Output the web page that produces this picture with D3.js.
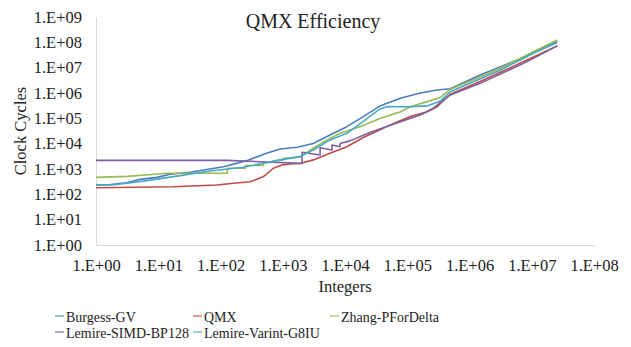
<!DOCTYPE html>
<html>
<head>
<meta charset="utf-8">
<script src="https://cdn.jsdelivr.net/npm/d3@7"></script>
<style>
  body { margin: 0; background: #fff; }
  text { font-family: "Liberation Serif", "Times New Roman", serif; fill: #222; }
</style>
</head>
<body>
<div id="chart"></div>
<script>
// Data (Integers vs Clock Cycles, log-log)
const seriesNames = ["Burgess-GV", "QMX", "Zhang-PForDelta", "Lemire-SIMD-BP128", "Lemire-Varint-G8IU"];
const seriesColors = ["#4a7ebb", "#be4b48", "#98b954", "#7d60a0", "#46aac5"];

const burgessN = [1, 1.7, 3.1, 5.1, 9.5, 15.5, 32, 112, 263, 550, 912, 1700, 3090, 5750, 10700, 20000, 37200, 77600, 162000, 302000, 490000, 1.48e6, 3.16e6, 7.41e6, 1.07e7, 2.57e7];
const burgessCycles = [234, 245, 288, 389, 468, 617, 741, 1230, 2140, 4170, 6170, 7240, 10200, 21900, 46800, 120000, 316000, 617000, 1.0e6, 1.32e6, 1.48e6, 5.13e6, 1.1e7, 2.57e7, 4.27e7, 1.07e8];

const qmxN = [1, 17.4, 87, 162, 302, 490, 708, 977, 1320, 1910, 3090, 5750, 10700, 20000, 37200, 60300, 112000, 209000, 302000, 490000, 1.48e6, 7.41e6, 2.57e7];
const qmxCycles = [182, 200, 234, 275, 316, 501, 1070, 1450, 1580, 1660, 2290, 4170, 7590, 17800, 36300, 63100, 117000, 182000, 288000, 891000, 2.82e6, 1.74e7, 7.24e7];

const zhangN = [1, 3.16, 7.94, 13.8, 129, 129, 251, 251, 490, 490, 708, 708, 1000, 1000, 1410, 1910, 3090, 5130, 8320, 17400, 37200, 77600, 112000, 209000, 339000, 490000, 1.32e6, 3.16e6, 2.57e7];
const zhangCycles = [468, 513, 603, 676, 676, 1070, 1070, 1380, 1380, 1740, 1860, 2090, 2290, 2570, 2820, 3090, 6610, 14100, 25700, 46800, 100000, 182000, 288000, 457000, 661000, 1.41e6, 3.8e6, 9.55e6, 1.23e8];

const simdN = [1, 126, 2040, 2040, 3980, 3980, 6170, 6170, 8320, 8320, 12000, 25700, 44700, 77600, 162000, 263000, 380000, 490000, 1.48e6, 7.41e6, 2.57e7];
const simdCycles = [2190, 2190, 1660, 4570, 3550, 6920, 5620, 8910, 7590, 10200, 12900, 28200, 45700, 74100, 135000, 251000, 525000, 832000, 2.4e6, 1.48e7, 7.24e7];

const varintN = [1, 2, 5.75, 20, 67.6, 234, 912, 1910, 3090, 5750, 10700, 17400, 25700, 37200, 47900, 112000, 209000, 339000, 490000, 3.16e6, 1.07e7, 2.57e7];
const varintCycles = [234, 240, 331, 525, 832, 1170, 2290, 3090, 5620, 14100, 25700, 60300, 126000, 240000, 295000, 288000, 309000, 479000, 1.12e6, 8.13e6, 3.72e7, 9.77e7];

const xTicks = [1, 1e1, 1e2, 1e3, 1e4, 1e5, 1e6, 1e7, 1e8];
const yTicks = [1, 1e1, 1e2, 1e3, 1e4, 1e5, 1e6, 1e7, 1e8, 1e9];

const allN = [burgessN, qmxN, zhangN, simdN, varintN];
const allCycles = [burgessCycles, qmxCycles, zhangCycles, simdCycles, varintCycles];

const width = 631, height = 347;
const svg = d3.select("#chart").append("svg")
    .attr("width", width)
    .attr("height", height);

const x = d3.scaleLog().domain([1, 1e8]).range([96, 594]);
const y = d3.scaleLog().domain([1, 1e9]).range([245, 17]);

const fmt = d => "1.E+" + String(Math.round(Math.log10(d))).padStart(2, "0");

// axes
const yAxis = svg.append("g")
    .attr("transform", "translate(96,0)")
    .call(d3.axisLeft(y).tickValues(yTicks).tickFormat(fmt).tickSize(0).tickPadding(14));
const xAxis = svg.append("g")
    .attr("transform", "translate(0,245)")
    .call(d3.axisBottom(x).tickValues(xTicks).tickFormat(fmt).tickSize(0).tickPadding(14));

[yAxis, xAxis].forEach(g => {
    g.attr("font-family", null);
    g.select(".domain").attr("stroke", "#d9d9d9").attr("stroke-width", 1);
    g.selectAll("text")
        .style("font-family", "'Liberation Serif', serif")
        .style("font-size", "16.5px")
        .attr("fill", "#222");
});

// lines
const line = d3.line()
    .x(d => x(d[0]))
    .y(d => y(d[1]));

allN.forEach((ns, i) => {
    const pts = ns.map((n, j) => [n, allCycles[i][j]]);
    svg.append("path")
        .datum(pts)
        .attr("fill", "none")
        .attr("stroke", seriesColors[i])
        .attr("stroke-width", 1.6)
        .attr("stroke-linejoin", "round")
        .attr("d", line);
});

// title and axis titles
svg.append("text")
    .attr("x", 313).attr("y", 28)
    .attr("text-anchor", "middle")
    .style("font-size", "20px")
    .text("QMX Efficiency");

svg.append("text")
    .attr("x", 345).attr("y", 292)
    .attr("text-anchor", "middle")
    .style("font-size", "16.5px")
    .text("Integers");

svg.append("text")
    .attr("transform", "translate(26,131) rotate(-90)")
    .attr("text-anchor", "middle")
    .style("font-size", "16.5px")
    .text("Clock Cycles");

// legend
const legendPos = [[55, 316], [193, 316], [330, 316], [55, 332], [193, 332]];
seriesNames.forEach((name, i) => {
    const [lx, ly] = legendPos[i];
    svg.append("line")
        .attr("x1", lx).attr("x2", lx + 9)
        .attr("y1", ly).attr("y2", ly)
        .attr("stroke", seriesColors[i])
        .attr("stroke-opacity", 0.55)
        .attr("stroke-width", 2);
    svg.append("text")
        .attr("x", lx + 11).attr("y", ly + 5.5)
        .style("font-size", "14px")
        .text(name);
});
</script>
</body>
</html>
